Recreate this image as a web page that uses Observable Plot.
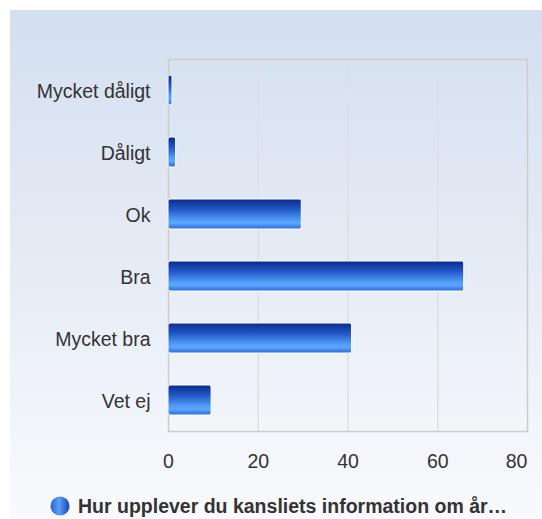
<!DOCTYPE html>
<html>
<head>
<meta charset="utf-8">
<script src="https://cdn.jsdelivr.net/npm/d3@7"></script>
<script src="https://cdn.jsdelivr.net/npm/@observablehq/plot@0.6"></script>
<style>
  html, body { margin: 0; padding: 0; background: #ffffff; }
  body { width: 542px; height: 519px; position: relative; overflow: hidden; font-family: "Liberation Sans", Arial, sans-serif; }
  #panel { position: absolute; left: 10px; top: 10px; width: 532px; height: 509px;
           background: linear-gradient(to bottom, #d3dff0 0%, #e6ecf5 50%, #f9fafd 100%); }
  #chart { position: absolute; left: 0; top: 0; }
  #legend { position: absolute; left: 50px; top: 494px; height: 24px; display: flex; align-items: center;
            font-weight: bold; font-size: 19.5px; color: #333; white-space: nowrap; }
  #legend svg { margin-right: 8px; }
</style>
</head>
<body>
<div id="panel"></div>
<div id="chart"></div>
<div id="legend">
  <svg width="20" height="20" viewBox="0 0 20 20">
    <defs>
      <linearGradient id="legGrad" x1="0" y1="0" x2="1" y2="0">
        <stop offset="0%" stop-color="#2a5fcf"/>
        <stop offset="45%" stop-color="#5aa0fa"/>
        <stop offset="100%" stop-color="#1b3fae"/>
      </linearGradient>
    </defs>
    <circle cx="10" cy="10" r="9.5" fill="url(#legGrad)"/>
  </svg>
  <span id="legendText"></span>
</div>
<script>
const categories = ["Mycket dåligt", "Dåligt", "Ok", "Bra", "Mycket bra", "Vet ej"];
const values = [0.9, 1.7, 29.7, 65.9, 40.9, 9.6];
const xTicks = [0, 20, 40, 60];
const xLastTick = [80];
const gridTicks = [20, 40, 60];
const seriesName = "Hur upplever du kansliets information om år…";

const data = categories.map((c, i) => ({category: c, value: values[i]}));

const plot = Plot.plot({
  width: 542,
  height: 480,
  marginLeft: 168,
  marginRight: 15,
  marginTop: 59,
  marginBottom: 49,
  style: {background: "transparent", fontSize: "19.5px", color: "#333", fontFamily: "'Liberation Sans', Arial, sans-serif"},
  x: {domain: [0, 80]},
  y: {domain: categories, paddingInner: 0.52, paddingOuter: 0.26},
  marks: [
    Plot.gridX(gridTicks, {stroke: "#dcdfe4", strokeOpacity: 1, strokeWidth: 1.5}),
    Plot.frame({stroke: "#cccccc", strokeWidth: 1.5}),
    Plot.barX(data, {x: "value", y: "category", fill: "url(#barGrad)", stroke: "white", strokeWidth: 1, rx: 2}),
    Plot.axisY({tickSize: 0, tickPadding: 18, fontSize: 19.5, dy: 1.5, label: null}),
    Plot.axisX(xTicks, {tickSize: 0, tickPadding: 24, fontSize: 19.5, dy: -1, label: null}),
    Plot.axisX(xLastTick, {tickSize: 0, tickPadding: 24, fontSize: 19.5, dy: -1, dx: -11, label: null})
  ]
});

const svg = d3.select(plot);
const defs = svg.insert("defs", ":first-child");
const g = defs.append("linearGradient").attr("id", "barGrad")
  .attr("x1", 0).attr("y1", 0).attr("x2", 0).attr("y2", 1);
[["0%", "#0a2a8c"], ["35%", "#2258c8"], ["68%", "#4f98f5"], ["80%", "#5ca8ff"], ["100%", "#2a6ad8"]]
  .forEach(([o, c]) => g.append("stop").attr("offset", o).attr("stop-color", c));

document.getElementById("chart").appendChild(plot);
document.getElementById("legendText").textContent = seriesName;
</script>
</body>
</html>
